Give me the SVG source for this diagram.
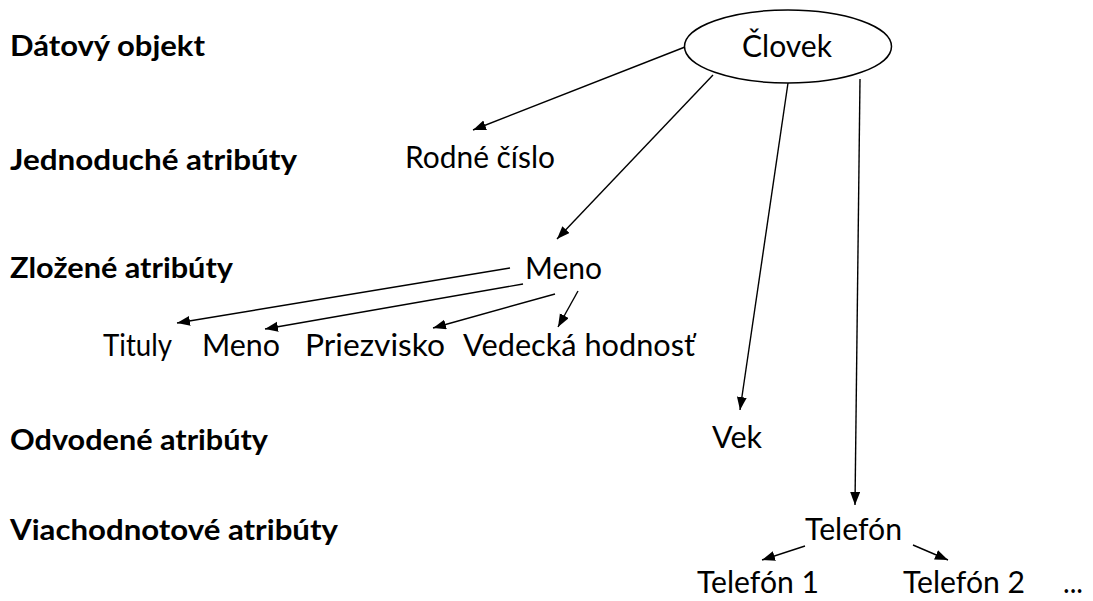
<svg xmlns="http://www.w3.org/2000/svg" width="1093" height="601" viewBox="0 0 1093 601">
<style>
text{font-family:Lato,"Liberation Sans",sans-serif;fill:#000}
.lbl{font-weight:bold;font-size:29px}
.n{font-size:30px}
.c line{stroke:#000;stroke-width:1.4;marker-end:url(#ah)}
.el{fill:#fff;stroke:#000;stroke-width:1.5}
</style>
<defs>
<marker id="ah" markerUnits="userSpaceOnUse" markerWidth="14" markerHeight="11" refX="13" refY="5" orient="auto">
<path d="M0,0 L13,5 L0,10 z" fill="#000"/>
</marker>
</defs>
<rect width="1093" height="601" fill="#fff"/>
<g id="labels">
<text class="lbl" x="10" y="56" textLength="195" lengthAdjust="spacingAndGlyphs">Dátový objekt</text>
<text class="lbl" x="10" y="170" textLength="287" lengthAdjust="spacingAndGlyphs">Jednoduché atribúty</text>
<text class="lbl" x="10" y="278" textLength="223" lengthAdjust="spacingAndGlyphs">Zložené atribúty</text>
<text class="lbl" x="10" y="450" textLength="258" lengthAdjust="spacingAndGlyphs">Odvodené atribúty</text>
<text class="lbl" x="10" y="540" textLength="328" lengthAdjust="spacingAndGlyphs">Viachodnotové atribúty</text>
</g>
<g class="c" id="connectors">
<line x1="685" y1="47" x2="473" y2="130"/>
<line x1="713" y1="75" x2="557" y2="239"/>
<line x1="788" y1="83" x2="740" y2="410"/>
<line x1="860" y1="79" x2="855" y2="505"/>
<line x1="510" y1="268" x2="177" y2="323"/>
<line x1="523" y1="284" x2="265" y2="329"/>
<line x1="555" y1="294" x2="433" y2="328"/>
<line x1="578" y1="291" x2="558" y2="327"/>
<line x1="805" y1="546" x2="762" y2="560"/>
<line x1="913" y1="545" x2="948" y2="560"/>
</g>
<g id="clovek">
<ellipse class="el" cx="788" cy="46.5" rx="103.5" ry="36.5"/>
<text class="n" x="742" y="57" textLength="90" lengthAdjust="spacingAndGlyphs">Človek</text>
</g>
<g id="rodne-cislo"><text class="n" x="405" y="168" textLength="150" lengthAdjust="spacingAndGlyphs">Rodné číslo</text></g>
<g id="meno"><text class="n" x="525" y="279" textLength="77" lengthAdjust="spacingAndGlyphs">Meno</text></g>
<g id="tituly"><text class="n" x="103" y="356" textLength="69" lengthAdjust="spacingAndGlyphs">Tituly</text></g>
<g id="meno2"><text class="n" x="202" y="356" textLength="78" lengthAdjust="spacingAndGlyphs">Meno</text></g>
<g id="priezvisko"><text class="n" x="305" y="356" textLength="140" lengthAdjust="spacingAndGlyphs">Priezvisko</text></g>
<g id="vedecka"><text class="n" x="463" y="356" textLength="232" lengthAdjust="spacingAndGlyphs">Vedecká hodnosť</text></g>
<g id="vek"><text class="n" x="712" y="448" textLength="50" lengthAdjust="spacingAndGlyphs">Vek</text></g>
<g id="telefon"><text class="n" x="805" y="540" textLength="97" lengthAdjust="spacingAndGlyphs">Telefón</text></g>
<g id="telefon1"><text class="n" x="697" y="593" textLength="122" lengthAdjust="spacingAndGlyphs">Telefón 1</text></g>
<g id="telefon2"><text class="n" x="903" y="593" textLength="122" lengthAdjust="spacingAndGlyphs">Telefón 2</text></g>
<g id="dots"><text class="n" x="1063" y="593" textLength="20" lengthAdjust="spacingAndGlyphs">...</text></g>
</svg>
